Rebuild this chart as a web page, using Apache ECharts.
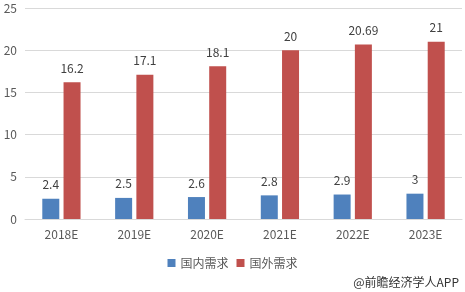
<!DOCTYPE html>
<html><head><meta charset="utf-8">
<script src="https://cdn.jsdelivr.net/npm/echarts@6/dist/echarts.min.js"></script>
<style>html,body{margin:0;padding:0;background:#fff}#c{width:465px;height:292px}</style>
</head><body><div id="c"></div>
<script>
var categories = ['2018E','2019E','2020E','2021E','2022E','2023E'];
var domestic = [2.4, 2.5, 2.6, 2.8, 2.9, 3];
var foreign = [16.2, 17.1, 18.1, 20, 20.69, 21];
var seriesNames = ['国内需求','国外需求'];
var font = '"Microsoft YaHei","Noto Sans CJK SC",sans-serif';
var chart = echarts.init(document.getElementById('c'));
chart.setOption({
  animation:false,
  textStyle:{fontFamily:font},
  grid:{left:25,right:3,top:8,bottom:73},
  legend:{data:seriesNames,bottom:18,left:'center',itemWidth:8,itemHeight:8,itemGap:8,icon:'rect',
    textStyle:{fontSize:12,color:'#595959',fontFamily:font}},
  graphic:[{type:'text',right:6,bottom:4,style:{text:'@前瞻经济学人APP',fontSize:12,fill:'#333',fontFamily:font}}],
  xAxis:{type:'category',data:categories,axisTick:{show:false},
    axisLine:{lineStyle:{color:'#d9d9d9'}},
    axisLabel:{color:'#595959',fontSize:12,margin:9}},
  yAxis:{type:'value',min:0,max:25,interval:5,
    axisLabel:{color:'#595959',fontSize:12,margin:8},
    splitLine:{lineStyle:{color:'#d9d9d9'}},axisLine:{show:false},axisTick:{show:false}},
  series:[
    {name:seriesNames[0],type:'bar',data:domestic,barWidth:17,barGap:'25%',itemStyle:{color:'#4f81bd'},
     label:{show:true,position:'top',distance:8,color:'#404040',fontSize:12}},
    {name:seriesNames[1],type:'bar',data:foreign,barWidth:17,itemStyle:{color:'#c0504d'},
     label:{show:true,position:'top',distance:8,color:'#404040',fontSize:12}}
  ]
});
</script></body></html>
